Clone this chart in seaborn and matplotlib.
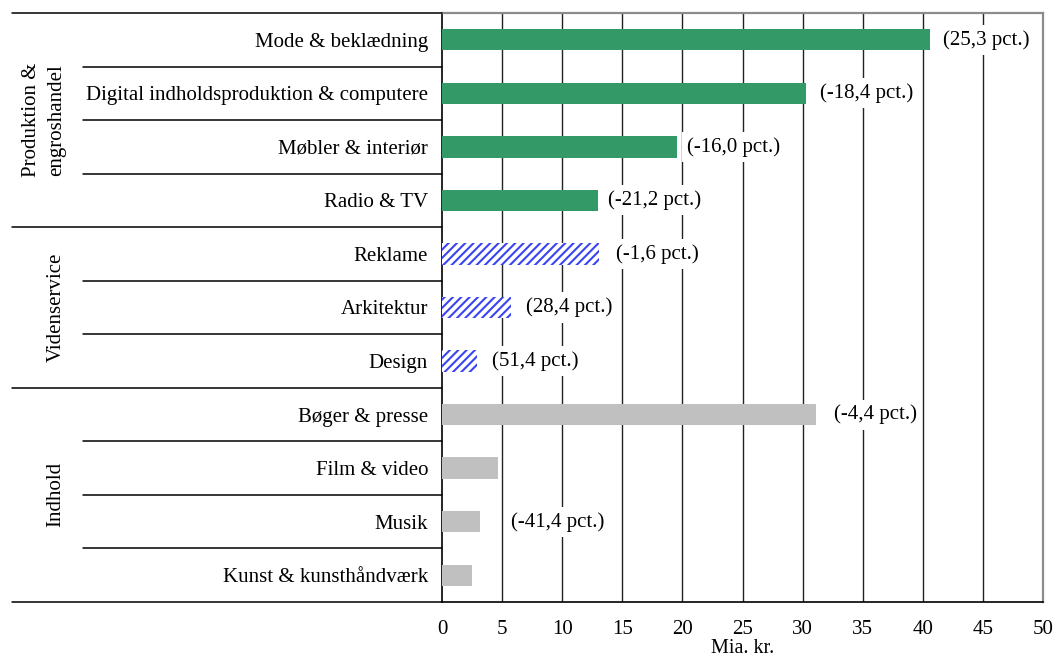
import matplotlib
matplotlib.use("Agg")
import matplotlib.pyplot as plt
import matplotlib.transforms as mtransforms
import pandas as pd
import seaborn as sns

# Omsætning i de kreative erhverv (mia. kr.), ændring i parentes
categories = [
    "Mode & beklædning",
    "Digital indholdsproduktion & computere",
    "Møbler & interiør",
    "Radio & TV",
    "Reklame",
    "Arkitektur",
    "Design",
    "Bøger & presse",
    "Film & video",
    "Musik",
    "Kunst & kunsthåndværk",
]
groups = [
    "Produktion & engroshandel", "Produktion & engroshandel",
    "Produktion & engroshandel", "Produktion & engroshandel",
    "Videnservice", "Videnservice", "Videnservice",
    "Indhold", "Indhold", "Indhold", "Indhold",
]
values = [40.6, 30.3, 19.55, 13.0, 13.1, 5.7, 2.9, 31.1, 4.7, 3.2, 2.5]
change_labels = [
    "(25,3 pct.)", "(-18,4 pct.)", "(-16,0 pct.)", "(-21,2 pct.)",
    "(-1,6 pct.)", "(28,4 pct.)", "(51,4 pct.)",
    "(-4,4 pct.)", "", "(-41,4 pct.)", "",
]
group_order = ["Produktion & engroshandel", "Videnservice", "Indhold"]
group_titles = ["Produktion &\nengroshandel", "Videnservice", "Indhold"]
x_ticks = [0, 5, 10, 15, 20, 25, 30, 35, 40, 45, 50]

df = pd.DataFrame({"kategori": categories, "gruppe": groups, "mia": values})

sns.set_theme(style="white")
plt.rcParams["font.family"] = ["Liberation Serif", "DejaVu Serif"]
plt.rcParams["hatch.linewidth"] = 1.5

GREEN = "#339966"
GREY = "#c0c0c0"
BLUE = "#3a44f0"
FS = 15

fig = plt.figure(figsize=(10.56, 6.57), dpi=100)
ax = fig.add_axes([442 / 1056, 1 - 602 / 657, 601 / 1056, 589 / 657])

sns.barplot(
    data=df, x="mia", y="kategori", hue="gruppe", order=categories,
    hue_order=group_order, palette=[GREEN, "white", GREY], dodge=False,
    saturation=1, width=0.4, linewidth=0, legend=False, orient="h",
    ax=ax, zorder=3,
)

# Videnservice: blå skravering
for bar in ax.containers[1]:
    bar.set_facecolor("white")
    bar.set_edgecolor(BLUE)
    bar.set_hatch("////")
    bar.set_linewidth(0)

ax.set_xlim(0, 50)
ax.set_ylim(len(categories) - 0.5, -0.5)
ax.set_xticks(x_ticks)
ax.set_xticklabels([str(t) for t in x_ticks], fontsize=FS)
ax.tick_params(axis="x", direction="out", length=4, width=1, color="black", pad=9)
ax.tick_params(axis="y", length=0, pad=10, labelsize=FS)
for lbl in ax.get_yticklabels() + ax.get_xticklabels():
    lbl.set_color("black")

ax.set_ylabel("")
ax.set_xlabel("Mia. kr.", fontsize=14.5, color="black", labelpad=0)

# Lodrette gitterlinjer
ax.grid(False)
for t in x_ticks[1:-1]:
    ax.axvline(t, color="#222222", lw=1.0, zorder=1)

for side in ["left", "bottom"]:
    ax.spines[side].set_color("black")
    ax.spines[side].set_linewidth(1.2)
for side in ["top", "right"]:
    ax.spines[side].set_visible(True)
    ax.spines[side].set_color("#8c8c8c")
    ax.spines[side].set_linewidth(1.6)

# Værdiændringer til højre for søjlerne
gaps = [9, 10, 7, 7, 12, 11, 11, 13, 11, 22, 11]
for i, (v, txt) in enumerate(zip(values, change_labels)):
    if not txt:
        continue
    ax.annotate(
        txt, xy=(v, i), xytext=(gaps[i], 0), textcoords="offset points",
        ha="left", va="center", fontsize=FS, color="black", zorder=4,
        bbox=dict(boxstyle="square,pad=0.25", fc="white", ec="none"),
    )

# Skillelinjer i kategoripanelet
trans = mtransforms.blended_transform_factory(fig.transFigure, ax.transData)
x_axis = 442 / 1056
group_bounds = [-0.5, 3.5, 6.5, 10.5]
for yb in group_bounds:
    ax.plot([12 / 1056, x_axis], [yb, yb], color="black", lw=1.1,
            transform=trans, clip_on=False, zorder=5)
for yb in [0.5, 1.5, 2.5, 4.5, 5.5, 7.5, 8.5, 9.5]:
    ax.plot([83 / 1056, x_axis], [yb, yb], color="black", lw=1.1,
            transform=trans, clip_on=False, zorder=5)

# Gruppetitler
title_x = [44 / 1056, 56 / 1056, 56 / 1056]
for k, title in enumerate(group_titles):
    yc = (group_bounds[k] + group_bounds[k + 1]) / 2
    ax.text(title_x[k], yc, title, transform=trans, rotation=90,
            ha="center", va="center", fontsize=FS, color="black",
            linespacing=1.45, multialignment="center")

fig.savefig("out.png", dpi=100)
